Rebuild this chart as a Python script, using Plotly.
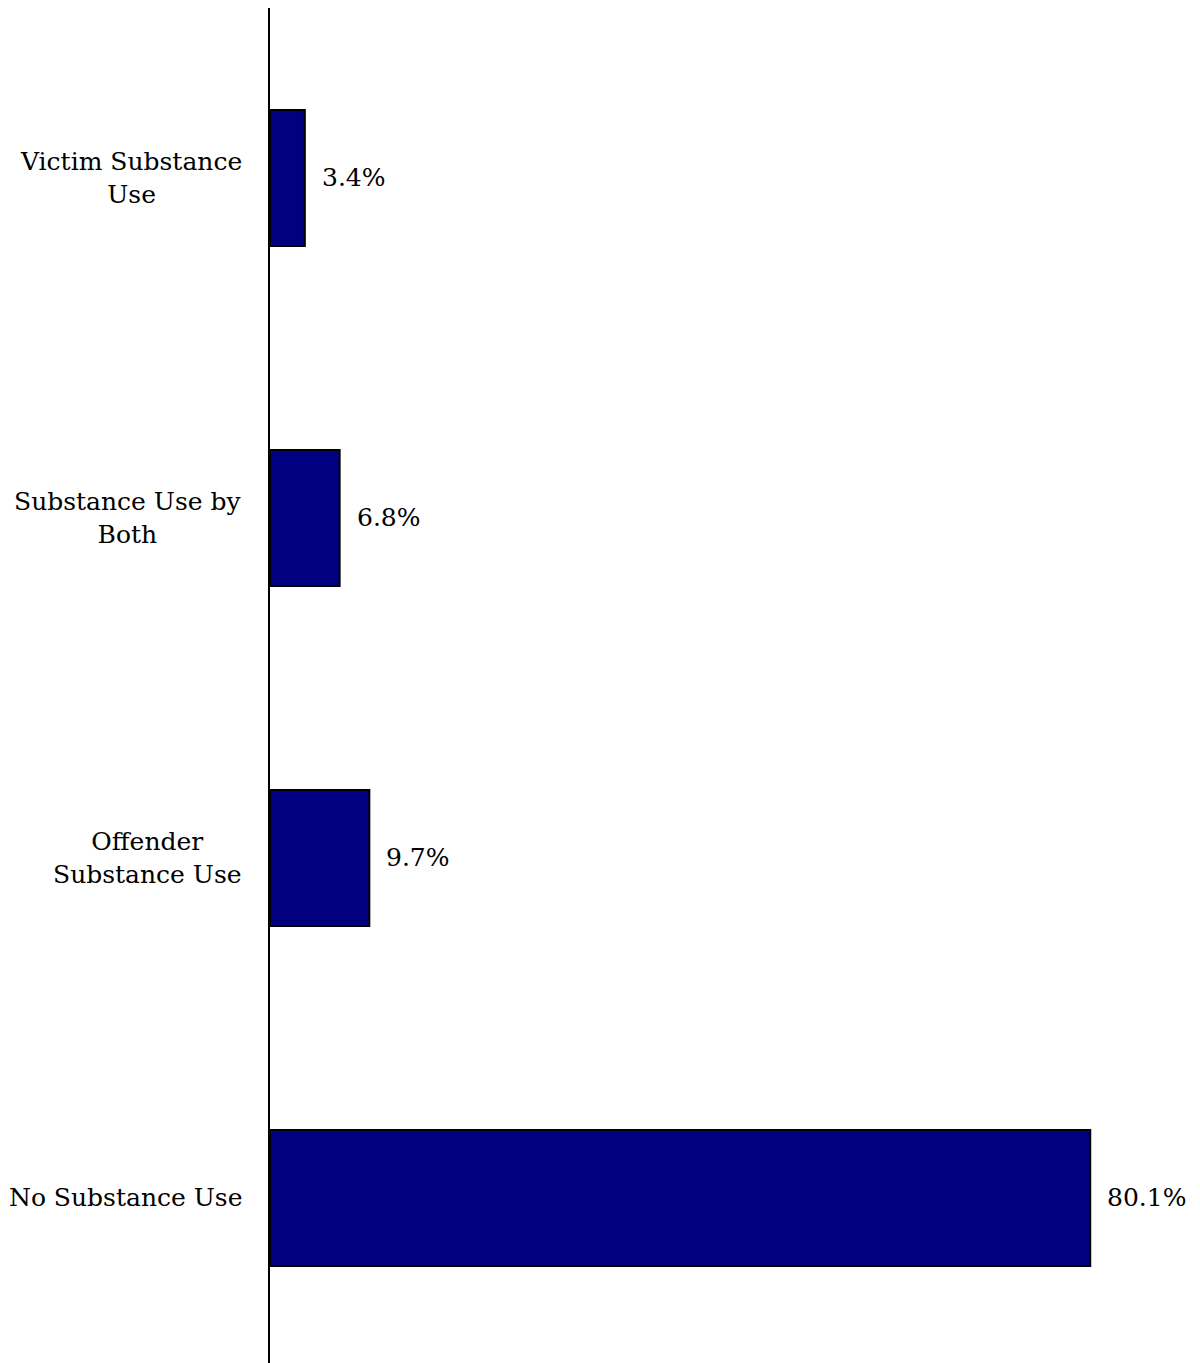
import plotly.graph_objects as go

categories = ["Victim Substance<br>Use", "Substance Use by<br>Both",
              "Offender<br>Substance Use", "No Substance Use"]
values = [3.4, 6.8, 9.7, 80.1]
labels = ["3.4%", "6.8%", "9.7%", "80.1%"]

FONT = "DejaVu Serif"

fig = go.Figure(go.Bar(
    x=values, y=list(range(len(categories))), orientation="h",
    width=0.4,
    marker=dict(color="#000080", line=dict(color="black", width=2)),
    hoverinfo="skip",
))

# value labels to the right of each bar
for i, (v, t) in enumerate(zip(values, labels)):
    fig.add_annotation(x=v, y=i, text=t, showarrow=False, xanchor="left",
                       xshift=15, font=dict(family=FONT, size=25, color="black"))

# category labels, centred multi-line
for i, c in enumerate(categories):
    fig.add_annotation(x=0, xref="paper", y=i, text=c, showarrow=False,
                       xanchor="right", xshift=-26, align="center",
                       font=dict(family=FONT, size=25, color="black"))

fig.update_xaxes(range=[0, 91.6], visible=False)
fig.update_yaxes(range=[3.509, -0.5], showticklabels=False, ticks="",
                 showgrid=False, zeroline=False,
                 showline=True, linecolor="black", linewidth=2)

fig.update_layout(width=1200, height=1363,
                  margin=dict(l=262, r=0, t=0, b=0),
                  font=dict(family=FONT),
                  plot_bgcolor="white", paper_bgcolor="white",
                  showlegend=False, bargap=0.6)

fig.write_html("out.html")
